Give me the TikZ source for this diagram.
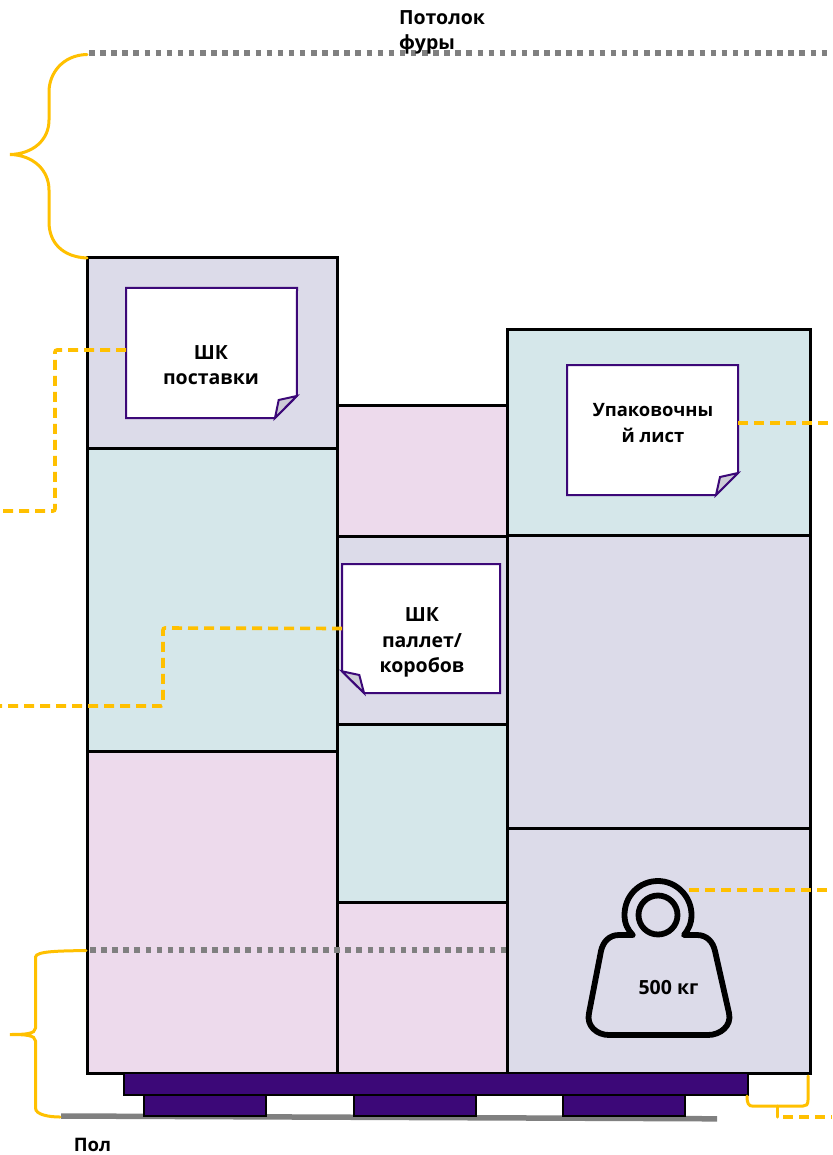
\documentclass[tikz,border=0pt]{standalone}
\usepackage{fontspec}
\setmainfont{Open Sans}
\definecolor{lav}{HTML}{DCDBE9}
\definecolor{tealb}{HTML}{D5E7EA}
\definecolor{pinkb}{HTML}{EDDAEC}
\definecolor{purp}{HTML}{3C0878}
\definecolor{gold}{HTML}{FFC000}
\definecolor{grayl}{HTML}{808080}
\definecolor{foldc}{HTML}{CDCCD6}
\tikzset{
  box/.style={draw=black,line width=3pt,inner sep=0pt,outer sep=0pt,anchor=north west},
  pal/.style={draw=black,fill=purp,line width=2.4pt,inner sep=0pt,outer sep=0pt,anchor=north west},
  noteanchor/.style={inner sep=0pt,outer sep=0pt,anchor=north west},
  noteline/.style={draw=purp,line width=2pt,line join=miter},
  lbl/.style={font=\bfseries\fontsize{19.5}{25.5}\selectfont,align=center,inner sep=0pt,text=black},
  dots/.style={draw=grayl,line width=5.5pt,dash pattern=on 5.5pt off 5.6pt},
  lead/.style={draw=gold,line width=3.6pt,dash pattern=on 10pt off 6pt,rounded corners=2pt},
  brace/.style={draw=gold,line width=3pt,line cap=round},
}
\begin{document}
\begin{tikzpicture}[x=1pt,y=-1pt]
\useasboundingbox (0,0) rectangle (832,1155);
% floor
\coordinate (floorL) at (61,1116);
\coordinate (floorR) at (717,1118.8);
\draw[grayl,line width=5.5pt] (floorL) -- (floorR);
% boxes, left column
\node[box,fill=lav,minimum width=250pt,minimum height=190pt] (L1) at (87,258) {};
\node[box,fill=tealb,minimum width=250pt,minimum height=303pt] (L2) at (87,448) {};
\node[box,fill=pinkb,minimum width=250pt,minimum height=322pt] (L3) at (87,751) {};
% middle column
\node[box,fill=pinkb,minimum width=170pt,minimum height=131pt] (M1) at (337,405) {};
\node[box,fill=lav,minimum width=170pt,minimum height=188pt] (M2) at (337,536) {};
\node[box,fill=tealb,minimum width=170pt,minimum height=178pt] (M3) at (337,724) {};
\node[box,fill=pinkb,minimum width=170pt,minimum height=171pt] (M4) at (337,902) {};
% right column
\node[box,fill=tealb,minimum width=303pt,minimum height=206pt] (R1) at (507,329) {};
\node[box,fill=lav,minimum width=303pt,minimum height=293pt] (R2) at (507,535) {};
\node[box,fill=lav,minimum width=303pt,minimum height=245pt] (R3) at (507,828) {};
% pallet
\node[pal,minimum width=624pt,minimum height=22pt] (deck) at (124,1073) {};
\node[pal,minimum width=122pt,minimum height=21pt] (foot1) at (144,1095) {};
\node[pal,minimum width=122pt,minimum height=21pt] (foot2) at (354,1095) {};
\node[pal,minimum width=122pt,minimum height=21pt] (foot3) at (563,1095) {};
% level lines
\coordinate (ceilL) at (89,53);
\coordinate (ceilR) at (832,53);
\coordinate (lvlL) at (90,950);
\coordinate (lvlR) at (507,950);
\draw[dots] (ceilL) -- (ceilR);
\draw[dots] (lvlL) -- (lvlR);
% note 1
\node[noteanchor,minimum width=171pt,minimum height=130pt] (noteA) at (126,288) {};
\draw[noteline,fill=white] (noteA.north west) -- (noteA.north east) -- (296.8,396) -- (275,418) -- (noteA.south west) -- cycle;
\draw[noteline,fill=foldc] (296.8,396) -- (278.7,400) -- (275,418) -- cycle;
% note 2
\node[noteanchor,minimum width=158pt,minimum height=129pt] (noteB) at (342,564) {};
\draw[noteline,fill=white] (noteB.north west) -- (noteB.north east) -- (noteB.south east) -- (364,693) -- (342,671.3) -- cycle;
\draw[noteline,fill=foldc] (342,671.3) -- (359.3,675) -- (364,693) -- cycle;
% note 3
\node[noteanchor,minimum width=171pt,minimum height=130pt] (noteC) at (567,365) {};
\draw[noteline,fill=white] (noteC.north west) -- (noteC.north east) -- (738,473) -- (716,495) -- (noteC.south west) -- cycle;
\draw[noteline,fill=foldc] (738,473) -- (720,477) -- (716,495) -- cycle;
% weight
\node[circle,draw=black,line width=5.8pt,minimum size=39pt,inner sep=0pt] (ring) at (658,915) {};
\draw[black,line width=5.8pt,line cap=round,line join=round]
  (632.7,935) -- (619,935) .. controls (609,935) and (603,942) .. (601,951)
  -- (589,1013) .. controls (586,1026) and (597,1035) .. (609,1035)
  -- (708,1035) .. controls (720,1035) and (732,1026) .. (729,1013)
  -- (715,951) .. controls (713,942) and (707,935) .. (697,935)
  -- (684,935) .. controls (688,930) and (691.5,924) .. (691.5,915)
  .. controls (691.5,896) and (676,881) .. (658,881)
  .. controls (639,881) and (624.5,896) .. (624.5,915)
  .. controls (624.5,924) and (628,930) .. (632.7,935);
% gold leaders
\coordinate (a1) at (55,350);
\coordinate (a2) at (55,511);
\coordinate (aEnd) at (0,511);
\draw[lead] ([yshift=3pt]noteA.west) -- (a1) -- (a2) -- (aEnd);
\coordinate (b1) at (163,628);
\coordinate (b2) at (163,706);
\coordinate (bEnd) at (0,706);
\draw[lead] (noteB.west) -- (b1) -- (b2) -- (bEnd);
\coordinate (cEnd) at (832,423);
\draw[lead] ([yshift=7pt]noteC.east) -- (cEnd);
\coordinate (dStart) at (689,890);
\coordinate (dEnd) at (832,890);
\draw[lead] (dStart) -- (dEnd);
\coordinate (eStart) at (783,1117);
\coordinate (eEnd) at (832,1117);
\draw[lead] (eStart) -- (eEnd);
% braces
\draw[brace] (87,54.5) .. controls (63,55) and (49,73) .. (49,92)
  -- (49,120) .. controls (49,140) and (33,154) .. (10,154.5)
  .. controls (33,155) and (49,170) .. (49,190)
  -- (49,222) .. controls (49,243) and (63,257) .. (87,258);
\draw[brace] (86,950.5) .. controls (60,951) and (36,951) .. (35.5,957)
  -- (35.5,1028) .. controls (35.5,1034) and (25,1034.5) .. (10,1034.5)
  .. controls (25,1034.5) and (35.5,1035) .. (35.5,1041)
  -- (35.5,1108) .. controls (35.5,1115) and (50,1117) .. (60,1117);
\draw[brace] (808,1076) -- (808,1100) .. controls (808,1105) and (806,1106) .. (803,1106)
  -- (752,1106) .. controls (749,1106) and (747,1104) .. (747,1096);
\draw[brace] (777.7,1106) -- (777.7,1117);
% labels
\node[lbl,align=left,anchor=north west] (tCeil) at (399,10) {Потолок\\фуры};
\node[lbl] (tA) at (211,365) {ШК\\поставки};
\node[lbl] (tB) at (422,642.5) {ШК\\паллет/\\коробов};
\node[lbl,font=\bfseries\fontsize{18.4}{26}\selectfont] (tC) at (653,423) {Упаковочны\\й лист};
\node[font=\bfseries\fontsize{19.5}{20}\selectfont,inner sep=0pt] (tW) at (668.5,987.5) {500 кг};
\node[font=\bfseries\fontsize{18.6}{20}\selectfont,inner sep=0pt] (tFloor) at (92.5,1145) {Пол};
\end{tikzpicture}
\end{document}
